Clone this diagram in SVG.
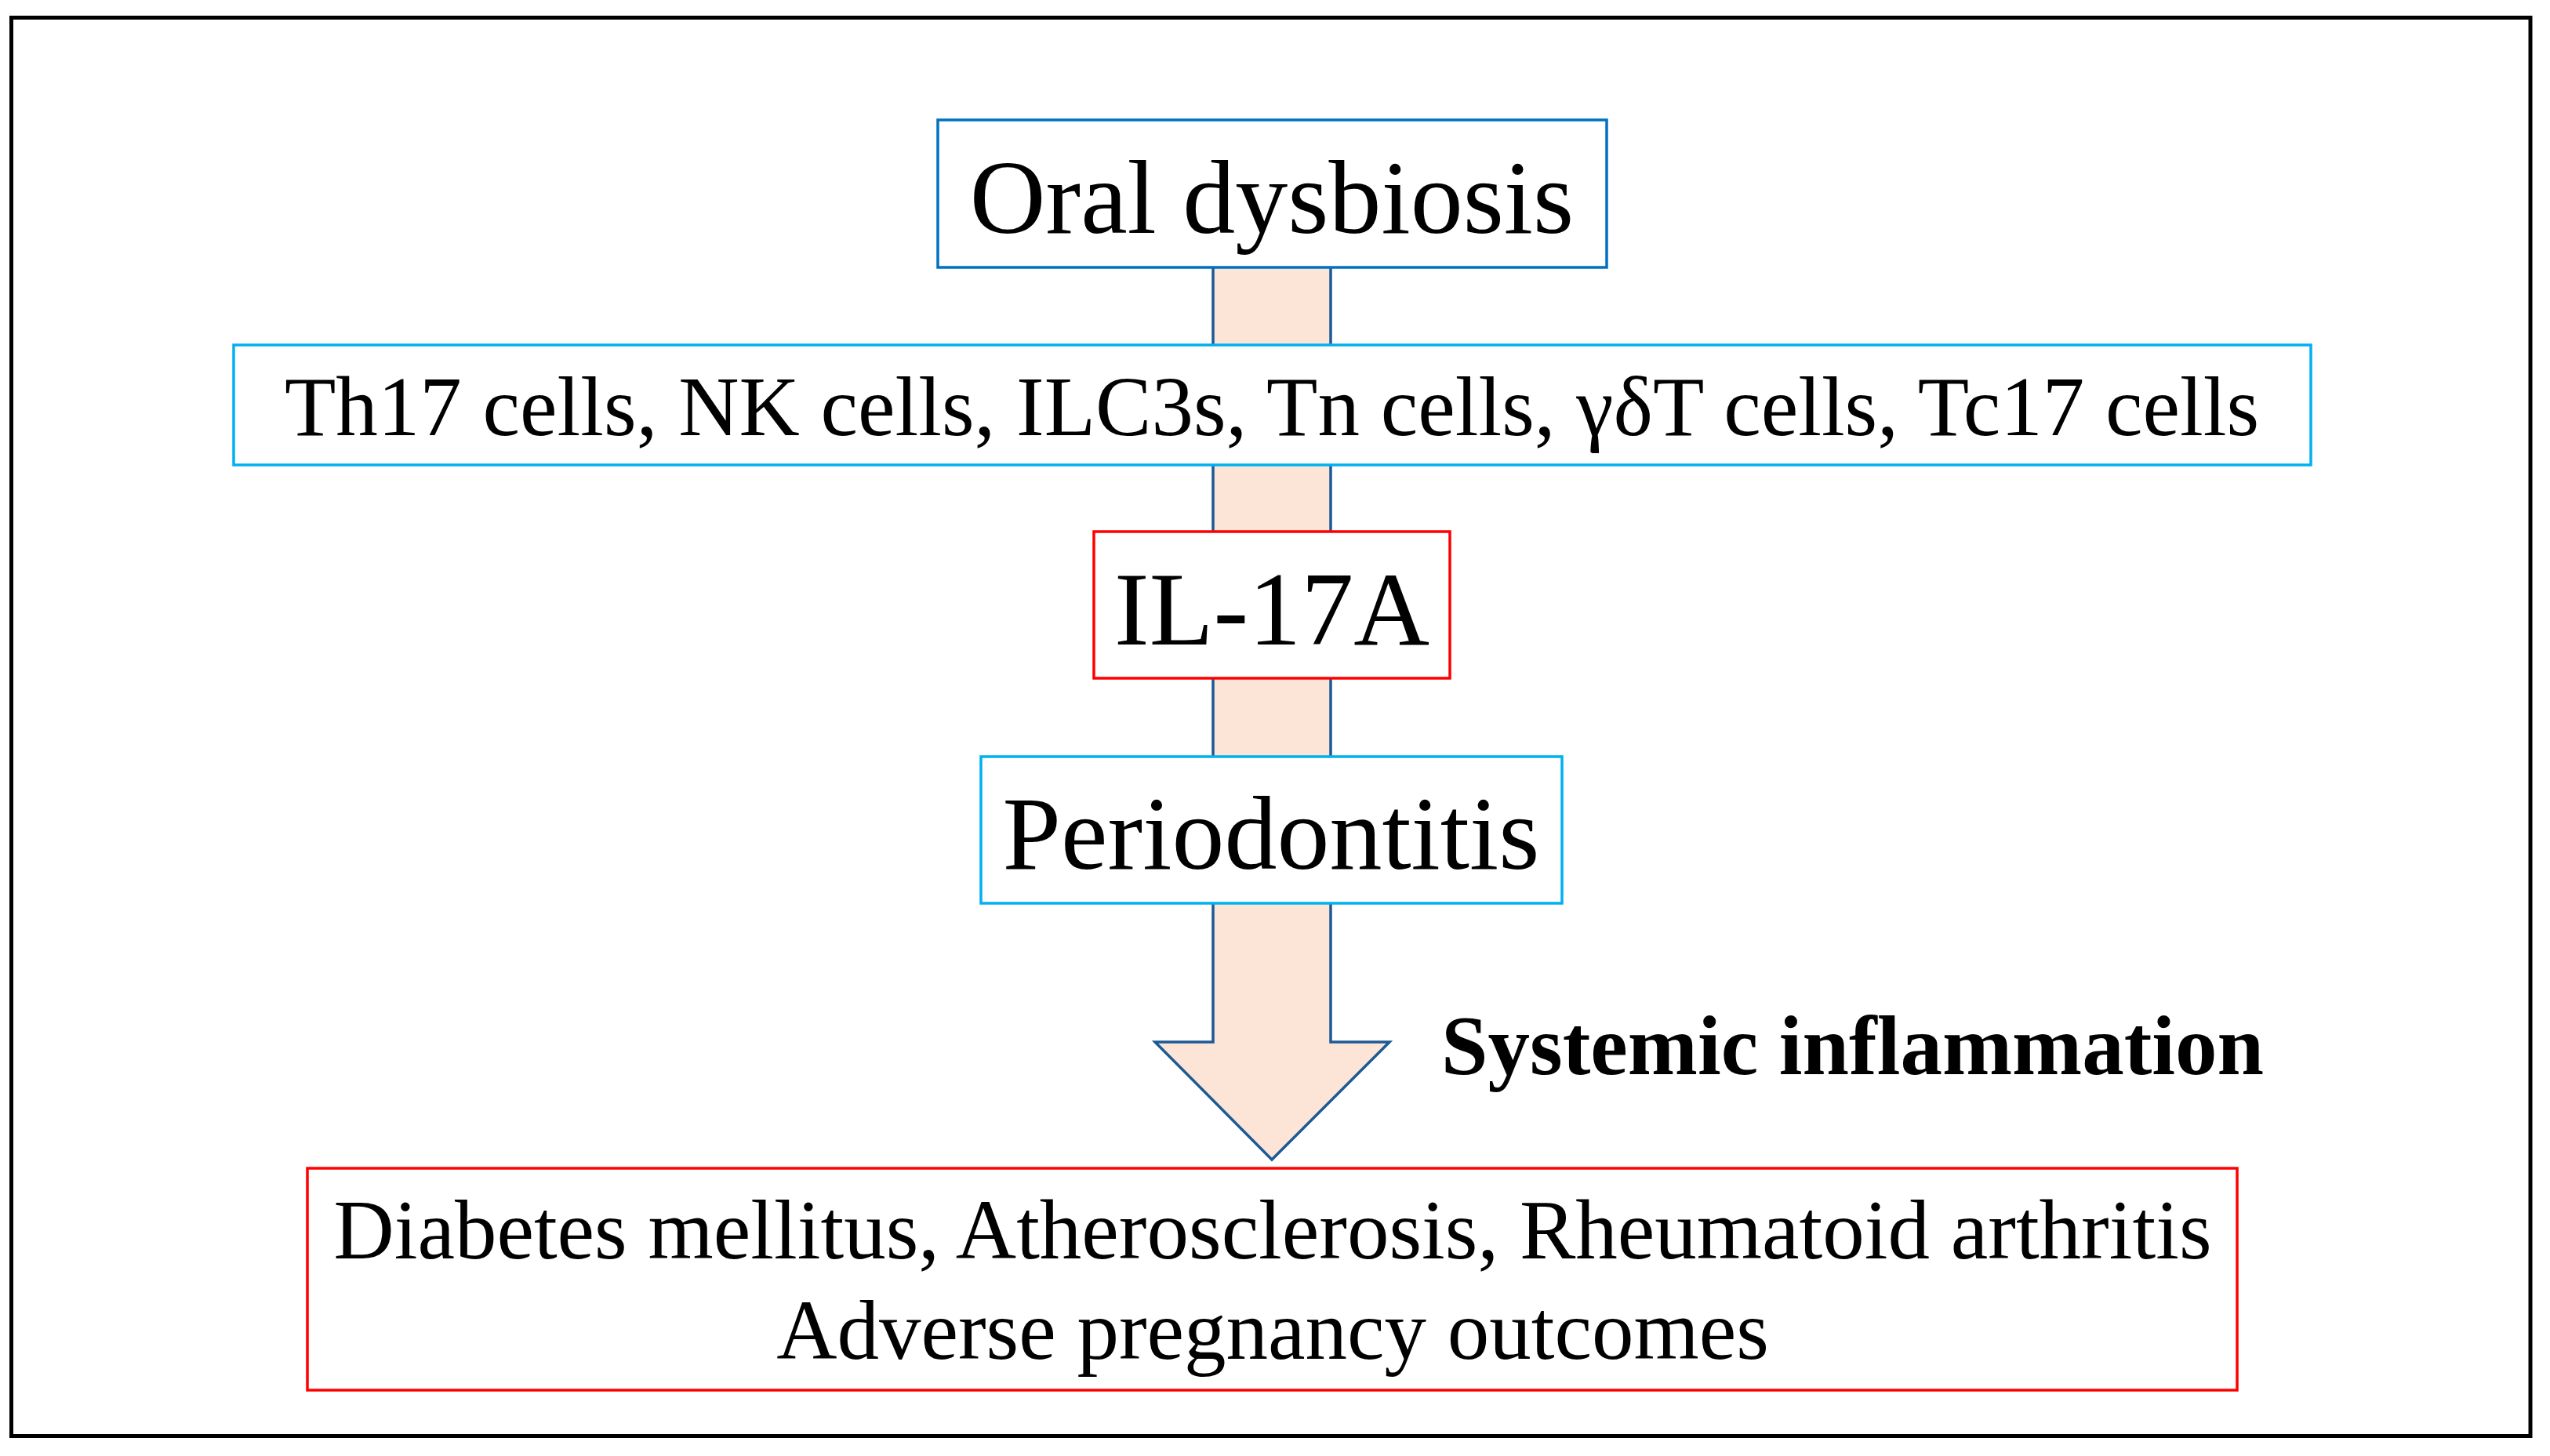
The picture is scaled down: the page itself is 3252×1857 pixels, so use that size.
<svg xmlns="http://www.w3.org/2000/svg" width="3252" height="1857" viewBox="0 0 3252 1857">
<style>
.t{font-family:"Liberation Serif","Times New Roman",serif;fill:#000;text-anchor:middle}
.big{font-size:134px}
.mid{font-size:107px}
.box{fill:#fff;stroke-width:3.5}
.blue{stroke:#0070C0}
.cyan{stroke:#00B0F0}
.red{stroke:#FF0000}
</style>
<rect x="0" y="0" width="3252" height="1857" fill="#fff"/>
<rect id="frame" x="14.5" y="22.5" width="3212.5" height="1809" fill="none" stroke="#000" stroke-width="5"/>
<g id="connectors">
<polygon points="1547,250 1547,1329 1473,1329 1622,1479 1772,1329 1697,1329 1697,250" fill="#FCE5D6" stroke="#1C5A96" stroke-width="3.5" stroke-linejoin="miter"/>
</g>
<g id="oral">
<rect class="box blue" x="1196" y="153" width="853" height="188"/>
<text class="t big" x="1622" y="297">Oral dysbiosis</text>
</g>
<g id="cells">
<rect class="box cyan" x="298" y="440" width="2649" height="153"/>
<text class="t mid" x="1622" y="555">Th17 cells, NK cells, ILC3s, Tn cells, γδT cells, Tc17 cells</text>
</g>
<g id="il17a">
<rect class="box red" x="1395" y="678" width="454" height="187"/>
<text class="t big" x="1622" y="822">IL-17A</text>
</g>
<g id="periodontitis">
<rect class="box cyan" x="1251" y="965" width="741" height="187"/>
<text class="t big" x="1621" y="1108">Periodontitis</text>
</g>
<g id="systemic">
<text x="1838" y="1370" style="font-family:'Liberation Serif','Times New Roman',serif;font-size:107px;font-weight:bold;fill:#000">Systemic inflammation</text>
</g>
<g id="diseases">
<rect class="box red" x="392" y="1490" width="2461" height="283"/>
<text class="t mid" x="1623" y="1605">Diabetes mellitus, Atherosclerosis, Rheumatoid arthritis</text>
<text class="t mid" x="1623" y="1733">Adverse pregnancy outcomes</text>
</g>
</svg>
